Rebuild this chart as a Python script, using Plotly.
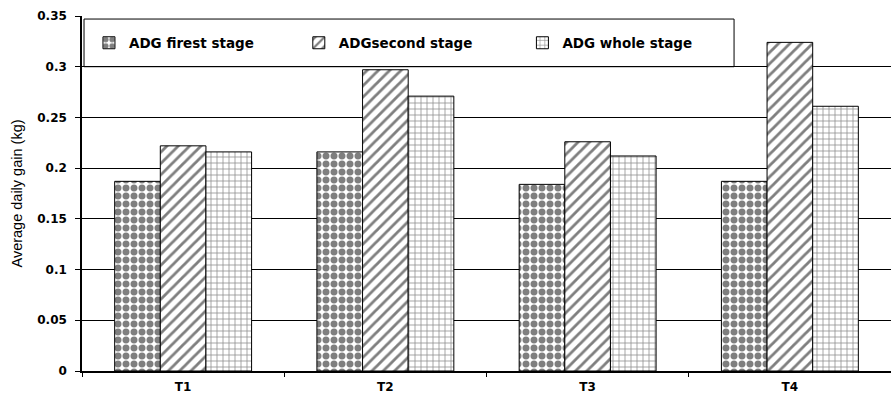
import plotly.graph_objects as go

# Average daily gain per treatment (kg)
treatments = ["T1", "T2", "T3", "T4"]
adg_first = [0.187, 0.216, 0.184, 0.187]
adg_second = [0.222, 0.297, 0.226, 0.324]
adg_whole = [0.216, 0.271, 0.212, 0.261]

series_names = ["ADG firest stage", "ADGsecond stage", "ADG whole stage"]
y_ticks = [0, 0.05, 0.1, 0.15, 0.2, 0.25, 0.3, 0.35]

label_font = dict(family="DejaVu Sans", size=12, color="black", weight="bold")
legend_font = dict(family="DejaVu Sans", size=13.5, color="black", weight="bold")

patterns = [
    dict(shape=".", fgcolor="black", bgcolor="white", size=8, solidity=0.6),
    dict(shape="/", fgcolor="black", bgcolor="white", size=8, solidity=0.35),
    dict(shape="+", fgcolor="#222222", bgcolor="white", size=6, solidity=0.25),
]
legend_ids = ["legend", "legend2", "legend3"]

fig = go.Figure()
for name, vals, pat, lg in zip(series_names, [adg_first, adg_second, adg_whole], patterns, legend_ids):
    fig.add_trace(go.Bar(
        x=treatments, y=vals, name=name, legend=lg,
        marker=dict(color="white", line=dict(color="black", width=1), pattern=pat),
    ))

# white framed box behind the legend entries
fig.add_shape(type="rect", xref="paper", yref="y", x0=0.0025, x1=0.806, y0=0.3, y1=0.347,
              line=dict(color="black", width=1), fillcolor="white", layer="between")

leg_common = dict(font=legend_font, bgcolor="rgba(0,0,0,0)", borderwidth=0,
                  yanchor="middle", xanchor="left", y=0.924)
fig.update_layout(
    width=891, height=394,
    margin=dict(l=82, r=0, t=16, b=23),
    paper_bgcolor="white", plot_bgcolor="white",
    barmode="group", bargap=0.323, bargroupgap=0,
    showlegend=True,
    legend=dict(x=0.0086, **leg_common),
    legend2=dict(x=0.268, **leg_common),
    legend3=dict(x=0.5444, **leg_common),
    xaxis=dict(showline=True, linecolor="black", linewidth=1.5, ticks="outside",
               tickson="boundaries", ticklen=4, tickcolor="black", showgrid=False,
               tickfont=label_font, ticklabelstandoff=4),
    yaxis=dict(range=[0, 0.35], tickvals=y_ticks, showgrid=True, gridcolor="black",
               gridwidth=1, showline=True, linecolor="black", linewidth=1.5,
               ticks="outside", ticklen=5, tickcolor="black", tickfont=label_font,
               ticklabelstandoff=6, zeroline=False,
               title=dict(text="Average daily gain (kg)",
                          font=dict(family="Liberation Sans", size=14.5, color="black"),
                          standoff=11)),
)

fig.write_html("out.html")
